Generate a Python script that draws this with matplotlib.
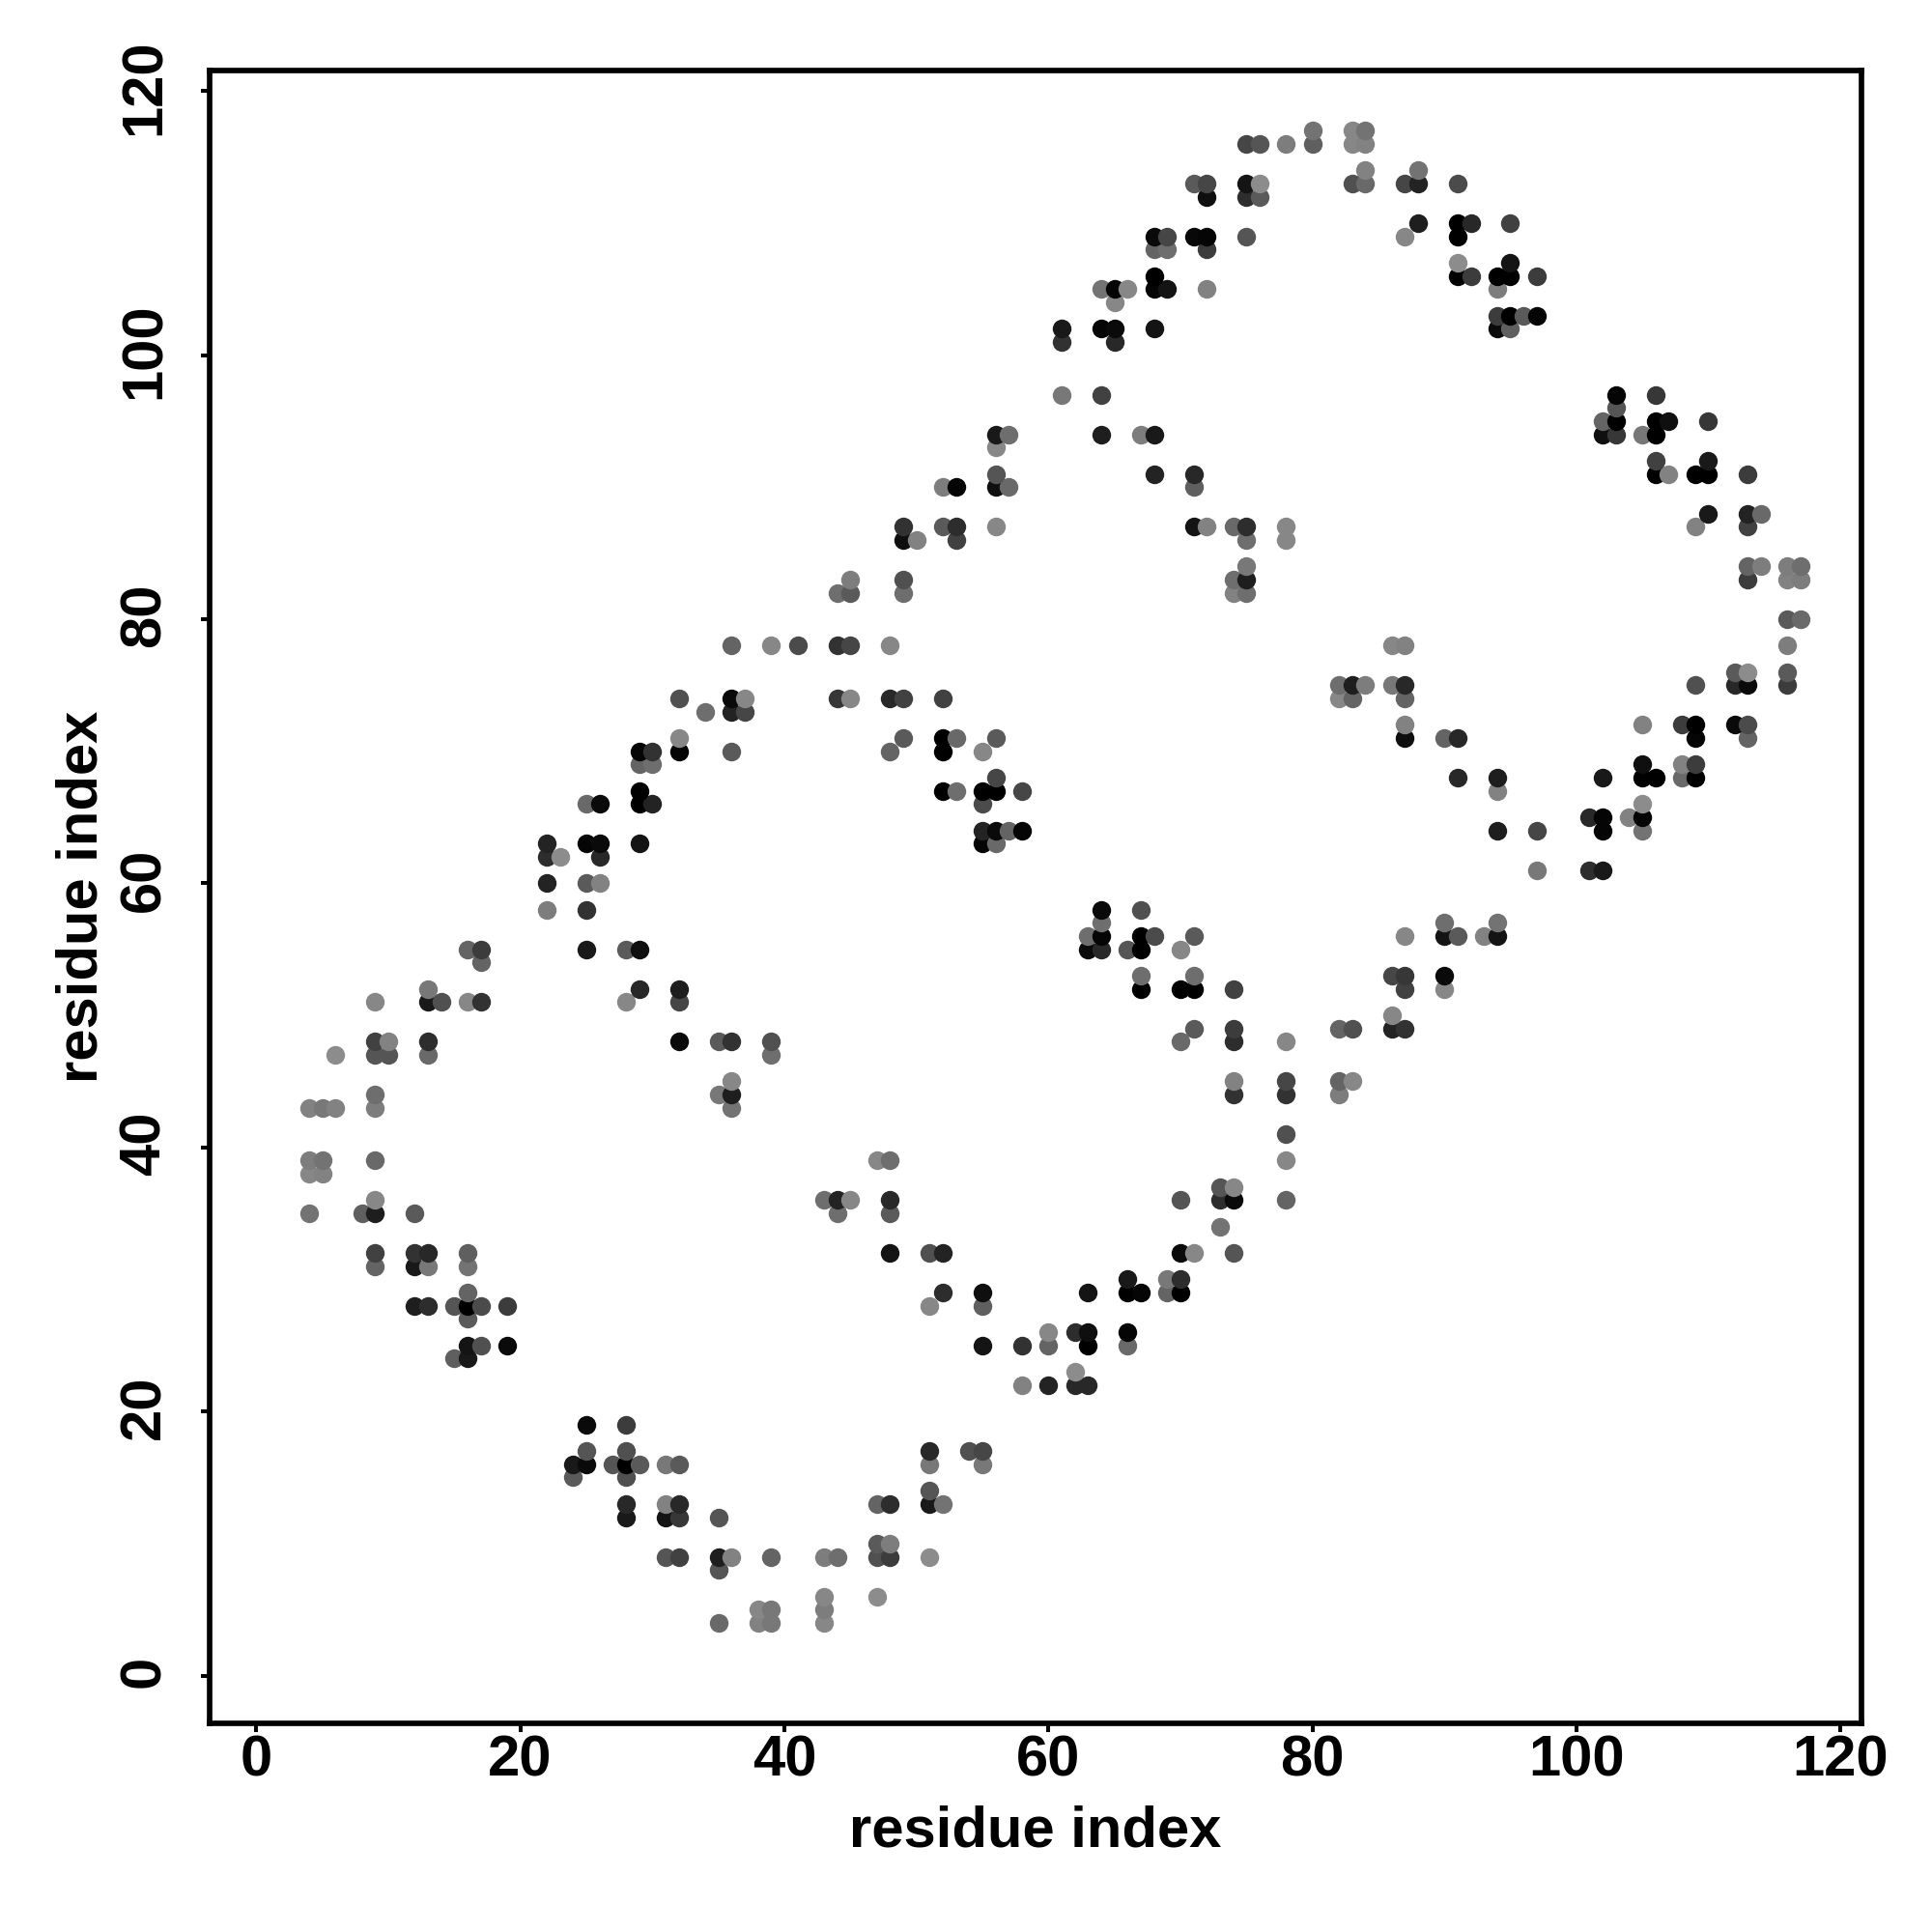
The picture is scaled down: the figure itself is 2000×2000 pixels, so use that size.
import matplotlib
matplotlib.use('Agg')
import matplotlib.pyplot as plt
from matplotlib.transforms import ScaledTranslation

plt.rcParams['font.family'] = ['Liberation Sans', 'DejaVu Sans']
plt.rcParams['font.weight'] = 'bold'

# contact rows, lowest y first so the upper rows end up on top
row_y = [4, 5, 6, 8, 9, 10, 12, 13, 14, 15, 16, 17, 19, 22, 23, 24, 25, 26, 27, 28, 29, 30,
         31, 32, 34, 35, 36, 37, 38, 39, 41, 43, 44, 45, 47, 48, 49, 50, 51, 52, 53, 54, 55,
         56, 57, 58, 60, 61, 62, 63, 64, 65, 66, 67, 68, 69, 70, 71, 72, 73, 74, 75, 76, 78,
         80, 82, 83, 84, 86, 87, 88, 90, 91, 92, 93, 94, 95, 96, 97, 101, 102, 103, 104, 105,
         106, 107, 108, 109, 110, 112, 113, 114, 116, 117]

row_x = [
    [35, 38, 39, 43],
    [38, 39, 43],
    [43, 47],
    [35],
    [31, 32, 35, 36, 39, 43, 44, 47, 48, 51],
    [47, 48],
    [28, 31, 32, 35],
    [28, 31, 32, 47, 48, 51, 52],
    [51],
    [24, 28],
    [24, 25, 27, 28, 29, 31, 32, 51, 55],
    [25, 28, 51, 54, 55],
    [25, 28],
    [58, 60, 62, 63],
    [62],
    [15, 16],
    [16, 17, 19, 55, 58, 60, 63, 66],
    [60, 62, 63, 66],
    [16],
    [12, 13, 15, 16, 17, 19, 51, 55],
    [16, 52, 55, 63, 66, 67, 69, 70],
    [66, 69, 70],
    [9, 12, 13, 16],
    [9, 12, 13, 16, 48, 51, 52, 70, 71, 74],
    [73],
    [4, 8, 9, 12, 44, 48],
    [9, 43, 44, 45, 48, 70, 73, 74, 78],
    [73, 74],
    [4, 5],
    [4, 5, 9, 47, 48, 78],
    [78],
    [4, 5, 6, 9, 36],
    [9, 35, 36, 74, 78, 82],
    [36, 74, 78, 82, 83],
    [6, 9, 10, 13, 39],
    [9, 10, 13, 32, 35, 36, 39, 70, 74, 78],
    [71, 74, 82, 83, 86, 87],
    [86],
    [9, 13, 14, 16, 17, 28, 32],
    [13, 29, 32, 67, 70, 71, 74, 87, 90],
    [67, 71, 86, 87, 90],
    [17],
    [16, 17, 25, 28, 29, 63, 64, 66, 67, 70],
    [63, 64, 67, 68, 71, 87, 90, 91, 93, 94],
    [64, 90, 94],
    [22, 25, 64, 67],
    [22, 25, 26],
    [97, 101, 102],
    [22, 23, 26],
    [22, 25, 26, 29, 55, 56],
    [55, 56, 57, 58, 94, 97, 102, 105],
    [101, 102, 104, 105],
    [25, 26, 29, 30, 55, 105],
    [29, 52, 53, 55, 56, 58, 94],
    [56, 91, 94, 102, 105, 106, 108, 109],
    [29, 30, 105, 108, 109],
    [29, 30, 32, 36, 48, 52, 55],
    [32, 49, 52, 53, 56, 87, 90, 91, 109, 113],
    [87, 105, 108, 109, 112, 113],
    [34, 36, 37],
    [32, 36, 37, 44, 45, 48, 49, 52, 82, 83, 87],
    [82, 83, 84, 86, 87, 109, 112, 113, 116],
    [112, 113, 116],
    [36, 39, 41, 44, 45, 48, 86, 87, 116],
    [116, 117],
    [44, 45, 49, 74, 75],
    [45, 49, 74, 75, 113, 116, 117],
    [75, 113, 114, 116, 117],
    [49, 50, 53, 75, 78],
    [49, 52, 53, 56, 71, 72, 74, 75, 78, 109, 113],
    [110, 113, 114],
    [52, 53, 56, 57, 71],
    [56, 68, 71, 106, 107, 109, 110, 113],
    [106, 110],
    [56],
    [56, 57, 64, 67, 68, 102, 103, 105, 106],
    [102, 103, 106, 107, 110],
    [103],
    [61, 64, 103, 106],
    [61, 65],
    [61, 64, 65, 68, 94, 95],
    [94, 95, 96, 97],
    [65],
    [64, 65, 66, 68, 69, 72, 94],
    [68, 91, 92, 94, 95, 97],
    [91, 95],
    [68, 69, 72],
    [68, 69, 71, 72, 75, 87, 91],
    [88, 91, 92, 95],
    [72, 75, 76],
    [71, 72, 75, 76, 83, 84, 87, 88, 91],
    [84, 88],
    [75, 76, 78, 80, 83, 84],
    [80, 83, 84],
]

# grey level 0-255 of each point, same shape as row_x
row_grey = [
    [105, 130, 120, 135],
    [135, 120, 125],
    [135, 140],
    [85],
    [85, 65, 30, 130, 100, 125, 110, 80, 60, 140],
    [90, 125],
    [25, 20, 55, 85],
    [40, 130, 40, 100, 45, 25, 115],
    [85],
    [90, 80],
    [25, 10, 85, 0, 90, 120, 90, 120, 120],
    [85, 80, 40, 80, 70],
    [10, 60],
    [130, 35, 40, 40],
    [140],
    [95, 25],
    [20, 80, 10, 20, 50, 100, 0, 105],
    [135, 45, 15, 5],
    [90],
    [30, 45, 85, 0, 75, 60, 135, 95],
    [100, 45, 15, 20, 0, 5, 100, 0],
    [25, 120, 45],
    [100, 25, 120, 115],
    [65, 50, 40, 95, 20, 80, 35, 10, 135, 85],
    [115],
    [115, 95, 30, 90, 110, 90],
    [135, 110, 35, 135, 40, 85, 45, 10, 100],
    [85, 135],
    [135, 130],
    [125, 115, 105, 135, 110, 135],
    [80],
    [130, 120, 130, 125, 115],
    [110, 120, 30, 50, 50, 125],
    [135, 130, 70, 100, 135],
    [140, 85, 85, 105, 110],
    [65, 130, 45, 10, 90, 50, 80, 105, 45, 135],
    [90, 60, 100, 80, 35, 50],
    [135],
    [135, 25, 80, 135, 50, 135, 70],
    [120, 40, 30, 0, 0, 0, 65, 65, 135],
    [110, 110, 70, 55, 10],
    [100],
    [100, 60, 25, 90, 15, 10, 40, 85, 0, 135],
    [110, 5, 0, 75, 90, 135, 20, 90, 130, 20],
    [110, 110, 115],
    [125, 50, 10, 80],
    [35, 90, 130],
    [120, 45, 25],
    [45, 140, 40],
    [35, 5, 10, 20, 5, 105],
    [35, 10, 100, 5, 30, 70, 5, 115],
    [40, 5, 130, 5],
    [105, 10, 0, 35, 75, 140],
    [0, 0, 110, 0, 0, 70, 130],
    [70, 40, 30, 25, 0, 0, 105, 0],
    [100, 110, 15, 130, 60],
    [5, 50, 5, 90, 100, 0, 135],
    [135, 90, 0, 105, 90, 15, 100, 40, 5, 100],
    [130, 130, 60, 0, 10, 75],
    [110, 35, 70],
    [80, 10, 135, 55, 135, 40, 65, 65, 135, 100, 100],
    [110, 30, 125, 120, 40, 80, 40, 10, 60],
    [90, 140, 90],
    [100, 135, 75, 50, 70, 135, 135, 130, 125],
    [90, 105],
    [110, 90, 110, 130, 110],
    [125, 80, 110, 30, 60, 130, 125],
    [120, 100, 125, 125, 110],
    [15, 130, 65, 110, 135],
    [50, 90, 45, 135, 20, 130, 105, 45, 135, 130, 65],
    [25, 35, 105],
    [125, 5, 15, 105, 95],
    [85, 35, 40, 0, 130, 0, 0, 60],
    [65, 25],
    [135],
    [25, 110, 30, 125, 25, 15, 55, 120, 0],
    [100, 0, 0, 15, 55],
    [85],
    [120, 65, 5, 55],
    [50, 40],
    [25, 5, 10, 20, 10, 95],
    [60, 0, 90, 5],
    [135],
    [115, 5, 135, 5, 20, 130, 125],
    [0, 0, 60, 0, 0, 60],
    [140, 20],
    [100, 110, 60],
    [10, 70, 8, 5, 85, 135, 0],
    [30, 0, 40, 65],
    [15, 45, 90],
    [90, 70, 20, 140, 80, 105, 70, 35, 75],
    [130, 115],
    [70, 85, 125, 95, 135, 130],
    [115, 135, 115],
]

fig = plt.figure(figsize=(20, 20), dpi=100, facecolor='white')
ax = fig.add_axes([216.5 / 2000, 1 - 1784 / 2000, 1710.5 / 2000, 1711 / 2000])

for y, xs, greys in zip(row_y, row_x, row_grey):
    for x, g in zip(xs, greys):
        ax.scatter(x, y, s=195, color=str(g / 255), linewidths=0, clip_on=False)

ax.set_xlim(-3.57, 121.6)
ax.set_ylim(-3.62, 121.56)
ax.set_xticks(range(0, 121, 20))
ax.set_yticks(range(0, 121, 20))

for side in ax.spines.values():
    side.set_linewidth(4.1)
ax.tick_params(length=6.3, width=2.9, labelsize=43, pad=1.7)
ax.tick_params(axis='y', pad=21.8)
plt.setp(ax.get_yticklabels(), rotation=90, va='center')
# y tick labels sit a little higher than the ticks
nudge = ScaledTranslation(0, 2.9 / 72, fig.dpi_scale_trans)
for lab in ax.get_yticklabels():
    lab.set_transform(lab.get_transform() + nudge)

ax.set_xlabel('residue index', fontsize=43, fontweight='bold', labelpad=13)
ax.set_ylabel('residue index', fontsize=43, fontweight='bold', labelpad=7.4)

fig.savefig('out.png', dpi=100)
